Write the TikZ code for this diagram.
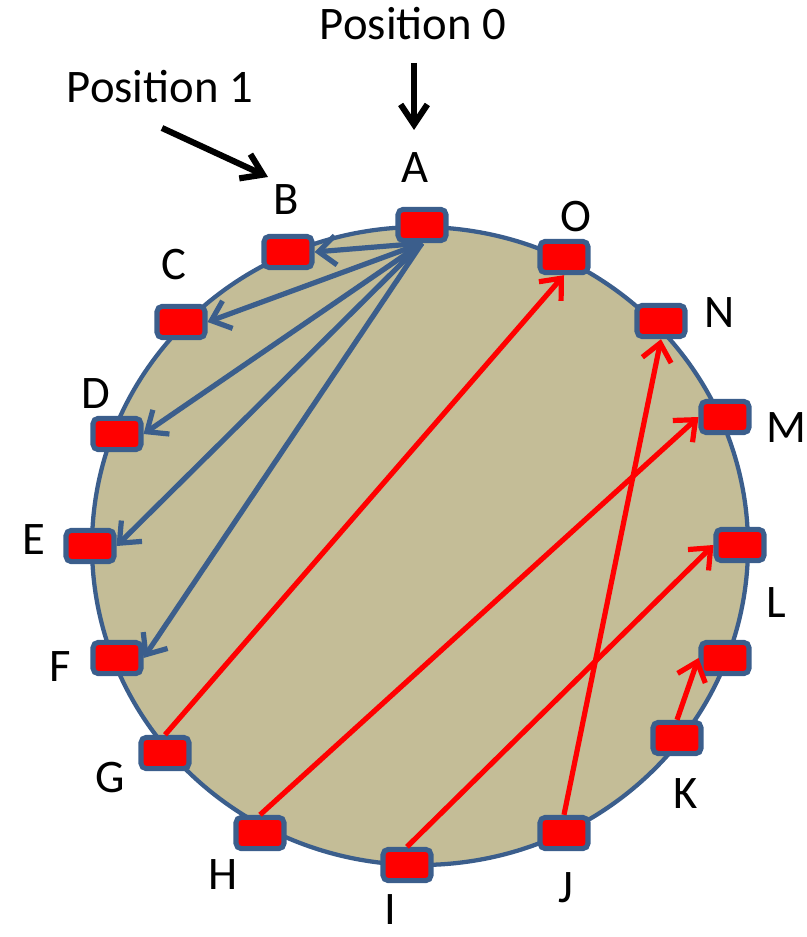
\documentclass[tikz,border=0pt]{standalone}
\usepackage{fontspec}
\setmainfont{Carlito}
\usetikzlibrary{arrows.meta}
\definecolor{ringfill}{RGB}{196,189,151}
\definecolor{ringline}{RGB}{59,94,140}
\definecolor{peerred}{RGB}{255,0,0}
\begin{document}
\begin{tikzpicture}[x=0.75pt,y=-0.75pt,
  peer/.style={draw=ringline, fill=peerred, line width=3.8pt, rounded corners=4pt,
    minimum width=36pt, minimum height=23.5pt, inner sep=0pt},
  lbl/.style={font=\fontsize{35}{42}\selectfont, anchor=base, inner sep=0pt},
  fingerblue/.style={draw=ringline, line width=3.9pt,
    -{Straight Barb[length=13pt,width=22pt]}},
  fingerred/.style={draw=peerred, line width=3.9pt,
    -{Straight Barb[length=13pt,width=22pt]}},
  pointer/.style={draw=black, line width=4.6pt,
    -{Straight Barb[length=15pt,width=20pt]}}]
\useasboundingbox (0,0) rectangle (806,937);

% the ring
\draw[fill=ringfill, draw=ringline, line width=3.2pt]
  (420,546) ellipse [x radius=246pt, y radius=239.25pt];

% peers on the ring
\node[peer] (A)  at (422,225) {};
\node[peer] (B)  at (288,252) {};
\node[peer] (C)  at (181,322) {};
\node[peer] (D)  at (117,434) {};
\node[peer] (E)  at (90,546) {};
\node[peer] (F)  at (117,658) {};
\node[peer] (G)  at (165,753) {};
\node[peer] (H)  at (260,833) {};
\node[peer] (I)  at (407,865) {};
\node[peer] (J)  at (564,833) {};
\node[peer] (K)  at (677,738) {};
\node[peer] (L2) at (725,658) {};
\node[peer] (L)  at (740,545) {};
\node[peer] (M)  at (725,417) {};
\node[peer] (N)  at (661,321) {};
\node[peer] (O)  at (564,257) {};

% fingers of A
\draw[fingerblue] (A.south) -- (B.east);
\draw[fingerblue] (A.south) -- (C.east);
\draw[fingerblue] (A.south) -- (D.east);
\draw[fingerblue] (A.south) -- (E.east);
\draw[fingerblue] (A.south) -- (F.east);

% other links
\draw[fingerred] (G.north) -- (O.south);
\draw[fingerred] (H.north) -- (M.west);
\draw[fingerred] (I.north) -- (L.west);
\draw[fingerred] (J.north) -- (N.south);
\draw[fingerred] (K.north) -- (L2.west);

% peer names
\node[lbl] (tA) at (415,183) {A};
\node[lbl] (tB) at (286,215) {B};
\node[lbl] (tC) at (174,280) {C};
\node[lbl] (tD) at (96,408) {D};
\node[lbl] (tE) at (34,554) {E};
\node[lbl] (tF) at (60,681) {F};
\node[lbl] (tG) at (110,792) {G};
\node[lbl] (tH) at (223,889) {H};
\node[lbl] (tI) at (390,924) {I};
\node[lbl] (tJ) at (566,902) {J};
\node[lbl] (tK) at (686,808) {K};
\node[lbl] (tL) at (776,617) {L};
\node[lbl] (tM) at (786,442) {M};
\node[lbl] (tN) at (720,328) {N};
\node[lbl] (tO) at (576,232) {O};

% position markers
\node[lbl] (p0) at (413,40) {Position 0};
\node[lbl] (p1) at (160,103) {Position 1};
\coordinate (p0s) at (414,63);
\coordinate (p0e) at (414,130);
\coordinate (p1s) at (162,128);
\coordinate (p1e) at (268,177);
\draw[pointer] (p0s) -- (p0e);
\draw[pointer] (p1s) -- (p1e);
\end{tikzpicture}
\end{document}
